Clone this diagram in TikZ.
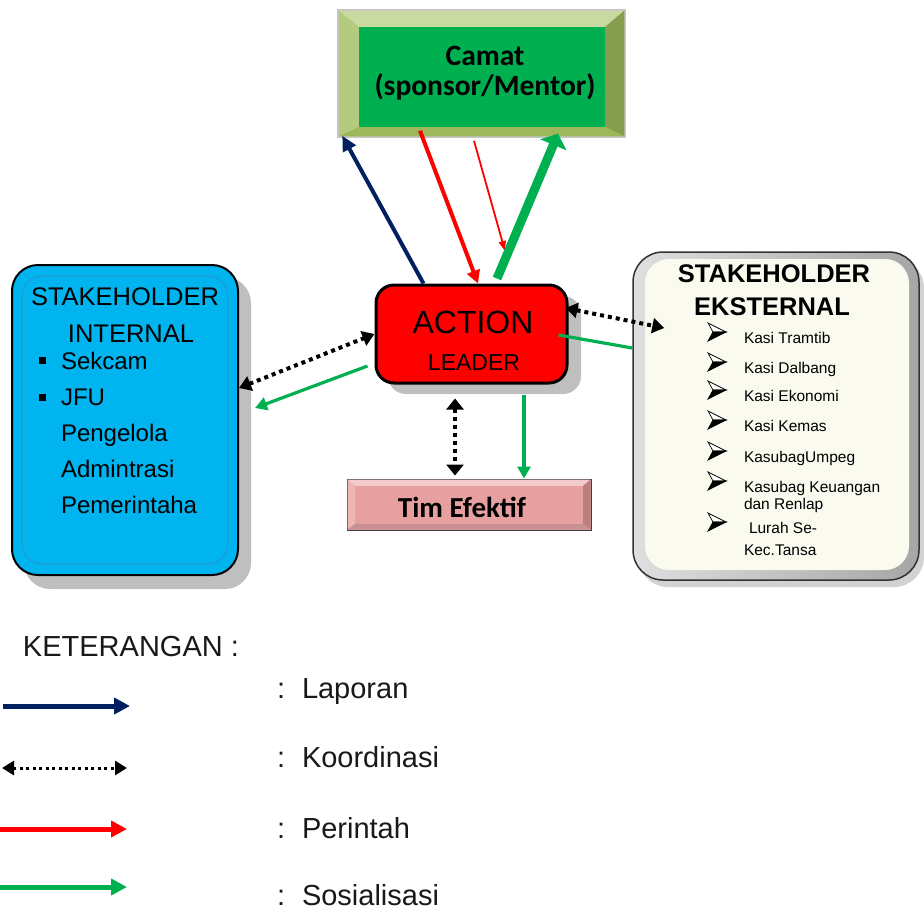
\documentclass[tikz,border=0pt]{standalone}
\usepackage{fontspec}
\setmainfont{Liberation Sans}
\newfontfamily\calfont{Carlito}
\usetikzlibrary{arrows.meta,calc}
\definecolor{navy}{HTML}{002060}
\definecolor{sgreen}{HTML}{00B050}
\definecolor{sred}{HTML}{FF0000}
\definecolor{skyb}{HTML}{00B4F0}
\definecolor{skyline}{HTML}{1B9FD8}
\definecolor{cream}{HTML}{FBFAEF}
\definecolor{pinkb}{HTML}{E6A09F}
\definecolor{pinktop}{HTML}{F4CBCB}
\definecolor{pinkleft}{HTML}{EDB5B4}
\definecolor{pinkright}{HTML}{B98080}
\definecolor{pinkbot}{HTML}{C89090}
\definecolor{shadowg}{HTML}{BFBFBF}
\definecolor{camA}{HTML}{A5C063}
\definecolor{camtop}{HTML}{C8DA9F}
\definecolor{camleft}{HTML}{B3CB7E}
\definecolor{camright}{HTML}{869E4E}
\definecolor{cambot}{HTML}{9CB85B}
\tikzset{
 txt/.style={inner sep=0pt, outer sep=0pt},
 lapor/.style={draw=navy, line width=4pt, -{Triangle[length=15pt,width=14pt]}},
 perin/.style={draw=sred, line width=4pt, -{Triangle[length=13pt,width=13pt]}},
 perinthin/.style={draw=sred, line width=1.8pt, -{Triangle[length=10pt,width=7pt]}},
 sosial/.style={draw=sgreen, line width=3.2pt, -{Triangle[length=12pt,width=13pt]}},
 sosialbig/.style={draw=sgreen, line width=9pt, -{Triangle[length=12pt,width=28pt]}},
 koord/.style={draw=black, line width=4pt, dash pattern=on 4pt off 4pt,
   {Triangle[length=12pt,width=15pt]}-{Triangle[length=12pt,width=15pt]}},
 koordleg/.style={draw=black, line width=3pt, dash pattern=on 3pt off 3.5pt,
   {Triangle[length=12pt,width=14pt]}-{Triangle[length=12pt,width=14pt]}},
 arrowbullet/.pic={
   \filldraw[fill=white, draw=black, line width=0.7pt] (9,0) -- (-9,-9) -- (-4,0) -- cycle;
   \filldraw[fill=black, draw=black, line width=0.7pt] (9,0) -- (-4,0) -- (-9,9) -- cycle;
 },
}
\begin{document}
\begin{tikzpicture}[x=1pt,y=-1pt]
\useasboundingbox (0,0) rectangle (924,911);

% ---------- Camat ----------
\node[draw=gray!45, line width=1.5pt, fill=camA, minimum width=287pt, minimum height=127pt, inner sep=0pt] (cam) at (481.5,73.5) {};
\fill[camtop] (338.75,10.75) -- (624.25,10.75) -- (605,27) -- (359,27) -- cycle;
\fill[camleft] (338.75,10.75) -- (359,27) -- (359,127) -- (338.75,136.25) -- cycle;
\fill[camright] (624.25,10.75) -- (605,27) -- (605,127) -- (624.25,136.25) -- cycle;
\fill[cambot] (338.75,136.25) -- (359,127) -- (605,127) -- (624.25,136.25) -- cycle;
\node[fill=sgreen, minimum width=246pt, minimum height=100pt, inner sep=0pt] (camin) at (482,77) {};
\node[txt, anchor=base, font=\calfont\bfseries\fontsize{29.5}{34}\selectfont] (camt1) at (485,65) {Camat};
\node[txt, anchor=base, font=\calfont\bfseries\fontsize{29.5}{34}\selectfont] (camt2) at (485,95) {(sponsor/Mentor)};

% ---------- Action Leader ----------
\fill[shadowg, rounded corners=18pt] (388,296) rectangle (581,394);
\node[draw=black, line width=3pt, fill=sred, rounded corners=18pt, minimum width=191pt, minimum height=98pt, inner sep=0pt] (al) at (471.5,334) {};
\node[txt, anchor=base, font=\fontsize{32}{38}\selectfont] (al1) at (473,333) {ACTION};
\node[txt, anchor=base, font=\fontsize{23}{28}\selectfont] (al2) at (474,370) {LEADER};

% ---------- Stakeholder internal ----------
\fill[shadowg, rounded corners=26pt] (24,277) rectangle (251,589);
\node[draw=black, line width=2pt, fill=skyb, rounded corners=26pt, minimum width=226pt, minimum height=310pt, inner sep=0pt] (lb) at (125,420) {};
\draw[skyline, line width=1.5pt, rounded corners=20pt] (22,276) rectangle (228,564);
\node[txt, anchor=base, font=\fontsize{25.5}{30}\selectfont] (lbt1) at (125,305) {STAKEHOLDER};
\node[txt, anchor=base, font=\fontsize{25.5}{30}\selectfont] (lbt2) at (131,342) {INTERNAL};
\fill[black] (38.5,356.5) rectangle (45.5,363.5);
\fill[black] (38.5,393.5) rectangle (45.5,400.5);
\node[txt, anchor=base west, font=\fontsize{24}{28}\selectfont] (lbi1) at (61,369) {Sekcam};
\node[txt, anchor=base west, font=\fontsize{24}{28}\selectfont] (lbi2) at (61,405) {JFU};
\node[txt, anchor=base west, font=\fontsize{24}{28}\selectfont] (lbi3) at (61,441) {Pengelola};
\node[txt, anchor=base west, font=\fontsize{24}{28}\selectfont] (lbi4) at (61,477) {Admintrasi};
\node[txt, anchor=base west, font=\fontsize{24}{28}\selectfont] (lbi5) at (61,513) {Pemerintaha};

% ---------- Stakeholder eksternal ----------
\fill[gray!35, rounded corners=30pt] (638,258) rectangle (924,587);
\node[draw=black!80, line width=1.5pt, left color=gray!25, right color=gray!70, rounded corners=30pt, minimum width=286pt, minimum height=328pt, inner sep=0pt] (rb) at (776,416) {};
\fill[cream, rounded corners=24pt] (645,259) rectangle (909,570);
\node[txt, anchor=base, font=\bfseries\fontsize{25.5}{30}\selectfont] (rbt1) at (774,282) {STAKEHOLDER};
\node[txt, anchor=base, font=\bfseries\fontsize{25.5}{30}\selectfont] (rbt2) at (772,315) {EKSTERNAL};
\tikzset{rbitem/.style={txt, anchor=base west, font=\fontsize{15.5}{18}\selectfont}}
\pic at (717,332) {arrowbullet};
\node[rbitem] (rbi1) at (744,343) {Kasi Tramtib};
\pic at (717,362) {arrowbullet};
\node[rbitem] (rbi2) at (744,373) {Kasi Dalbang};
\pic at (717,390) {arrowbullet};
\node[rbitem] (rbi3) at (744,401) {Kasi Ekonomi};
\pic at (717,420) {arrowbullet};
\node[rbitem] (rbi4) at (744,431) {Kasi Kemas};
\pic at (717,451) {arrowbullet};
\node[rbitem] (rbi5) at (744,462) {KasubagUmpeg};
\pic at (717,481) {arrowbullet};
\node[rbitem] (rbi6) at (744,492) {Kasubag Keuangan};
\node[rbitem] (rbi6b) at (744,509) {dan Renlap};
\pic at (717,522) {arrowbullet};
\node[rbitem] (rbi7) at (749,533) {Lurah Se-};
\node[rbitem] (rbi7b) at (744,555) {Kec.Tansa};

% ---------- Tim Efektif ----------
\node[draw=black!75, line width=1pt, fill=pinkb, minimum width=244pt, minimum height=51pt, inner sep=0pt] (tim) at (469,504.5) {};
\fill[pinktop] (347.5,479.5) -- (590.5,479.5) -- (583,486) -- (355,486) -- cycle;
\fill[pinkleft] (347.5,479.5) -- (355,486) -- (355,524) -- (347.5,529.5) -- cycle;
\fill[pinkright] (590.5,479.5) -- (583,486) -- (583,524) -- (590.5,529.5) -- cycle;
\fill[pinkbot] (347.5,529.5) -- (355,524) -- (583,524) -- (590.5,529.5) -- cycle;
\fill[pinkb] (355,486) rectangle (583,524);
\node[txt, anchor=base, font=\calfont\bfseries\fontsize{29}{33}\selectfont] (timt) at (462,517) {Tim Efektif};

% ---------- Connectors ----------
\draw[lapor] ([xshift=-48pt]al.north) -- ([xshift=5pt,yshift=2pt]cam.south west);
\draw[perin] ([xshift=-61.5pt,yshift=7pt]cam.south) -- ([xshift=6.5pt]al.north);
\coordinate (redthin) at (505,251);
\draw[perinthin] ([xshift=-7.5pt,yshift=-3pt]cam.south) -- (redthin);
\draw[sosialbig] ([xshift=25.5pt,yshift=5pt]al.north) -- ([xshift=76.5pt,yshift=4pt]cam.south);
\draw[koord] ([yshift=32pt]lb.east) -- (al.west);
\draw[sosial] ([xshift=-7pt,yshift=-32pt]al.west) -- ([xshift=16pt,yshift=12pt]lb.east);
\draw[koord] ([xshift=-3pt,yshift=26pt]al.east) -- ([xshift=32pt,yshift=88pt]rb.west);
\draw[sgreen, line width=3.2pt] ([xshift=-10pt,yshift=-1pt]al.east) -- ([yshift=68pt]rb.west);
\draw[koord, {Triangle[length=11pt,width=17pt]}-{Triangle[length=11pt,width=17pt]}] ([xshift=-16.5pt,yshift=-14pt]al.south) -- ([xshift=-14pt,yshift=3pt]tim.north);
\draw[sosial] ([xshift=52.5pt,yshift=-10pt]al.south) -- ([xshift=55pt]tim.north);

% ---------- Legend ----------
\node[txt, anchor=base west, font=\fontsize{29}{34}\selectfont, text=black!90] (ket) at (23,656) {KETERANGAN :};
\tikzset{legtxt/.style={txt, anchor=base west, font=\fontsize{29}{34}\selectfont, text=black!90}}
\coordinate (l1a) at (3,706); \coordinate (l1b) at (130,706);
\coordinate (l2a) at (2,768); \coordinate (l2b) at (127,768);
\coordinate (l3a) at (0,829); \coordinate (l3b) at (127,829);
\coordinate (l4a) at (0,887); \coordinate (l4b) at (127,887);
\draw[lapor, line width=5pt, -{Triangle[length=16pt,width=16pt]}] (l1a) -- (l1b);
\draw[koordleg] (l2a) -- (l2b);
\draw[perin, line width=5pt, -{Triangle[length=16pt,width=16pt]}] (l3a) -- (l3b);
\draw[sosial, line width=5pt, -{Triangle[length=16pt,width=16pt]}] (l4a) -- (l4b);
\node[legtxt] (lg1) at (277,698) {\makebox[25pt][l]{:}Laporan};
\node[legtxt] (lg2) at (277,767) {\makebox[25pt][l]{:}Koordinasi};
\node[legtxt] (lg3) at (277,838) {\makebox[25pt][l]{:}Perintah};
\node[legtxt] (lg4) at (277,905) {\makebox[25pt][l]{:}Sosialisasi};
\end{tikzpicture}
\end{document}
